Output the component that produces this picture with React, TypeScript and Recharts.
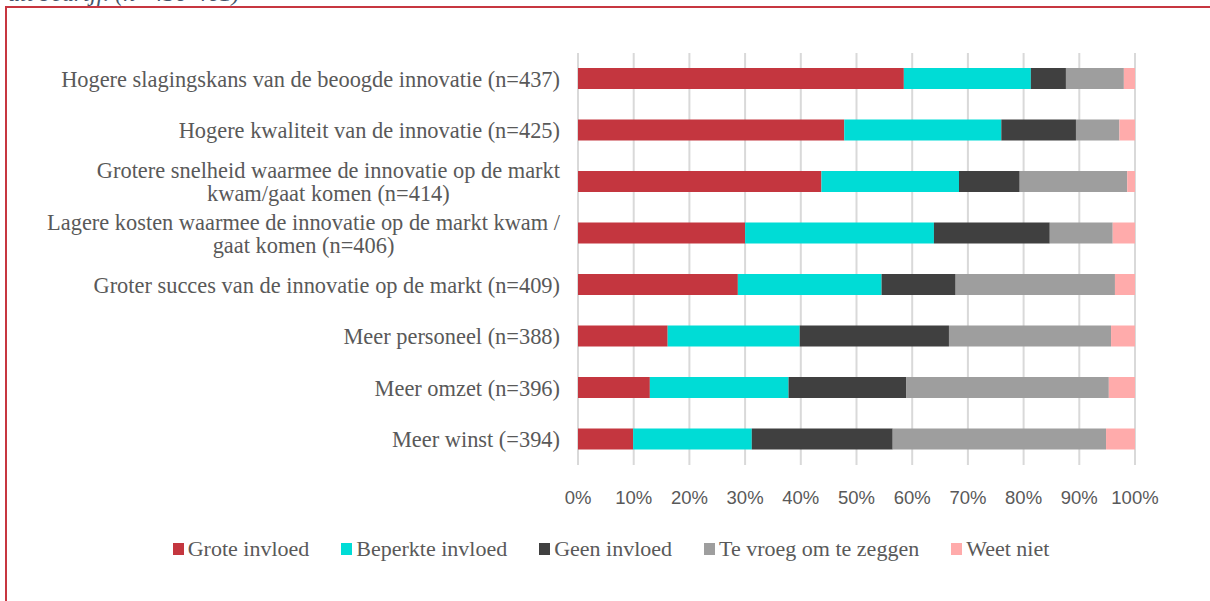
import React from 'react';
import { BarChart, Bar, XAxis, YAxis, CartesianGrid, Legend } from 'recharts';

const categories = [
  'Hogere slagingskans van de beoogde innovatie (n=437)',
  'Hogere kwaliteit van de innovatie (n=425)',
  'Grotere snelheid waarmee de innovatie op de markt\nkwam/gaat komen (n=414)',
  'Lagere kosten waarmee de innovatie op de markt kwam /\ngaat komen (n=406)',
  'Groter succes van de innovatie op de markt (n=409)',
  'Meer personeel (n=388)',
  'Meer omzet (n=396)',
  'Meer winst (=394)',
];
const groteInvloed = [58.5, 47.8, 43.7, 30.0, 28.7, 16.1, 12.9, 9.9];
const beperkteInvloed = [22.8, 28.2, 24.7, 33.9, 25.8, 23.7, 24.9, 21.3];
const geenInvloed = [6.3, 13.4, 10.9, 20.8, 13.3, 26.8, 21.1, 25.3];
const teVroeg = [10.4, 7.8, 19.3, 11.3, 28.6, 29.1, 36.4, 38.3];
const weetNiet = [2.0, 2.8, 1.4, 4.0, 3.6, 4.3, 4.7, 5.2];

const seriesNames = ['Grote invloed', 'Beperkte invloed', 'Geen invloed', 'Te vroeg om te zeggen', 'Weet niet'];
const seriesColors = ['#C4363F', '#00DCD6', '#404040', '#9E9E9E', '#FFABAB'];
const xTicks = [0, 10, 20, 30, 40, 50, 60, 70, 80, 90, 100];
const caption = 'uit bedrijf. (n=430-461)';

const seriesValues = [groteInvloed, beperkteInvloed, geenInvloed, teVroeg, weetNiet];
const data = categories.map((name, i) => {
  const row: Record<string, string | number> = { name };
  seriesNames.forEach((s, k) => {
    row[s] = seriesValues[k][i];
  });
  return row;
});

const SERIF = "'Liberation Serif', serif";
const SANS = "'Liberation Sans', Arial, sans-serif";
const LABEL_SIZE = 22.4;
const TEXT_COLOR = '#595959';

let ctx: CanvasRenderingContext2D | null = null;
function measure(s: string, size: number): number {
  if (!ctx && typeof document !== 'undefined') {
    ctx = document.createElement('canvas').getContext('2d');
  }
  if (!ctx) return s.length * 9.5;
  ctx.font = `${size}px 'Liberation Serif'`;
  return ctx.measureText(s).width;
}

const CategoryTick = (props: any) => {
  const { x, y, payload } = props;
  const lines = String(payload.value).split('\n');
  if (lines.length === 1) {
    return (
      <text x={x} y={y} dy="0.35em" textAnchor="end" fill={TEXT_COLOR} fontFamily={SERIF} fontSize={LABEL_SIZE}>
        {lines[0]}
      </text>
    );
  }
  const size = LABEL_SIZE;
  const maxW = Math.max(...lines.map((l) => measure(l, size)));
  const cx = x - maxW / 2;
  const lh = 23;
  return (
    <g>
      {lines.map((l, i) => (
        <text
          key={i}
          x={cx}
          y={y + (i - (lines.length - 1) / 2) * lh}
          dy="0.35em"
          textAnchor="middle"
          fill={TEXT_COLOR}
          fontFamily={SERIF}
          fontSize={size}
        >
          {l}
        </text>
      ))}
    </g>
  );
};

const LegendContent = (props: any) => {
  const payload = [...(props.payload || [])].sort(
    (a: any, b: any) => seriesNames.indexOf(a.value) - seriesNames.indexOf(b.value)
  );
  return (
    <div
      style={{
        display: 'flex',
        justifyContent: 'center',
        alignItems: 'center',
        height: 26,
        fontFamily: SERIF,
        fontSize: 22,
        color: TEXT_COLOR,
        whiteSpace: 'nowrap',
      }}
    >
      {payload.map((entry: any, i: number) => (
        <div key={i} style={{ display: 'flex', alignItems: 'center', marginLeft: i === 0 ? 0 : 32 }}>
          <span style={{ display: 'inline-block', width: 11, height: 12, background: entry.color, marginRight: 4 }} />
          <span>{entry.value}</span>
        </div>
      ))}
    </div>
  );
};

export default function App() {
  return (
    <div style={{ position: 'absolute', left: 0, top: 0, width: 1210, height: 601, overflow: 'hidden', background: '#fff' }}>
      <div
        style={{
          position: 'absolute',
          left: 8,
          top: -19,
          fontFamily: SERIF,
          fontStyle: 'italic',
          fontSize: 24,
          lineHeight: '24px',
          color: '#44546A',
          whiteSpace: 'nowrap',
        }}
      >
        {caption}
      </div>
      <div
        style={{
          position: 'absolute',
          left: 5,
          top: 6,
          width: 1220,
          height: 620,
          borderTop: '2px solid #C73640',
          borderLeft: '2px solid #C73640',
          boxSizing: 'border-box',
        }}
      />
      <div style={{ position: 'absolute', left: 0, top: 0 }}>
        <BarChart
          width={1210}
          height={601}
          data={data}
          layout="vertical"
          margin={{ top: 53, right: 75, bottom: 70, left: 0 }}
          barSize={21}
        >
          <CartesianGrid horizontal={false} stroke="#D9D9D9" strokeWidth={2} />
          <XAxis
            type="number"
            domain={[0, 100]}
            ticks={xTicks}
            tickFormatter={(v: number) => `${v}%`}
            axisLine={false}
            tickLine={false}
            tickMargin={20}
            height={40}
            interval={0}
            tick={{ fill: TEXT_COLOR, fontFamily: SANS, fontSize: 18.5 }}
          />
          <YAxis
            type="category"
            dataKey="name"
            width={578}
            axisLine={false}
            tickLine={false}
            tickMargin={12}
            interval={0}
            tick={<CategoryTick />}
          />
          <Legend
            content={<LegendContent />}
            verticalAlign="bottom"
            wrapperStyle={{ left: 6, top: 536, bottom: 'auto', width: 1210, height: 26 }}
          />
          {seriesNames.map((s, k) => (
            <Bar key={s} dataKey={s} name={s} stackId="a" fill={seriesColors[k]} isAnimationActive={false} />
          ))}
        </BarChart>
      </div>
    </div>
  );
}
